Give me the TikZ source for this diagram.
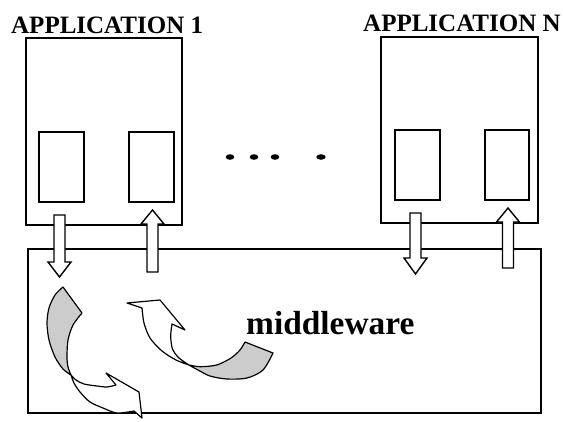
\documentclass[tikz,border=0pt]{standalone}
\usepackage{fontspec}
\setmainfont{Liberation Serif}

% block arrow: centre x, tail y, head base y, tip y
\newcommand\blkarrow[4]{%
  \draw[blk] (#1-5.5,#2) -- (#1+5.5,#2) -- (#1+5.5,#3) -- (#1+11.5,#3)
    -- (#1,#4) -- (#1-11.5,#3) -- (#1-5.5,#3) -- cycle;}

\begin{document}
\begin{tikzpicture}[x=1pt,y=-1pt,line width=1.4pt,line join=miter,
  frame/.style={draw=black},
  blk/.style={draw=black,fill=white},
  ribbon/.style={draw=black,fill=white,line width=1.2pt,line join=round},
  under/.style={draw=black,fill=black!20,line width=1.2pt,line join=round},
  lbl/.style={font=\fontsize{25}{27}\selectfont\bfseries,inner sep=0pt,anchor=base west},
  big/.style={font=\fontsize{33.4}{36}\selectfont\bfseries,inner sep=0pt,anchor=base west},
  dotm/.style={fill=black}]
\useasboundingbox (0,0) rectangle (563,421);

% application windows and their ports
\draw[frame] (26,38) rectangle (182,225);
\draw[frame] (39,132) rectangle (84,202);
\draw[frame] (129,132) rectangle (174,202);

\draw[frame] (381,37) rectangle (538,223);
\draw[frame] (395,130) rectangle (440,200);
\draw[frame] (485,130) rectangle (529,200);

% middleware layer
\draw[frame] (28,249) rectangle (541,413);

\node[lbl] (t1) at (10.5,33) {APPLICATION 1};
\node[lbl] (tn) at (362.5,31) {APPLICATION N};
\node[big] (mw) at (245.5,334) {middleware};

% ellipsis between the applications
\fill[dotm] (230,157) ellipse (4.3pt and 2.8pt);
\fill[dotm] (254,157) ellipse (4.3pt and 2.8pt);
\fill[dotm] (275,157) ellipse (4.3pt and 2.8pt);
\fill[dotm] (321,157) ellipse (4.7pt and 2.8pt);

% traffic between applications and middleware
\blkarrow{59.5}{215}{262}{277}
\blkarrow{152.5}{272}{224}{210}
\blkarrow{415.5}{213}{258}{274}
\blkarrow{508}{268}{222}{208}

% left curved arrow: twisted tail, then head
\draw[under] (63,287) -- (82,313)
  -- plot[smooth] coordinates {(82,313) (73,325) (68,340) (67,357) (68,367) (71,375)}
  -- plot[smooth] coordinates {(71,375) (63,369) (55,357) (49,340) (47,323) (49,308) (55,295) (63,287)}
  -- cycle;
\draw[ribbon] (71,375)
  -- plot[smooth] coordinates {(71,375) (76,380) (84,384) (97,386) (107,387) (116,385)}
  -- (106,373) -- (139,392) -- (142,418) -- (134,411)
  -- plot[smooth] coordinates {(134,411) (117,413) (103,408) (90,402) (80,392) (74,383) (71,375)}
  -- cycle;

% right curved arrow: twisted tail, then head
\draw[under] (189,365)
  -- plot[smooth] coordinates {(189,365) (200,366.7) (216.7,365) (231,358) (240,350) (245,342)}
  -- (273,353)
  -- plot[smooth] coordinates {(273,353) (263,370) (247,378) (227,379) (210,376) (198,370) (189,365)}
  -- cycle;
\draw[ribbon] (189,365)
  -- plot[smooth] coordinates {(189,365) (176,360) (162,351) (150,338) (144,323) (142,308)}
  -- (127,303) -- (160,300) -- (185,330) -- (172,324)
  -- plot[smooth] coordinates {(172,324) (170.7,336) (172.5,349) (179,358) (189,365)}
  -- cycle;
\end{tikzpicture}
\end{document}
